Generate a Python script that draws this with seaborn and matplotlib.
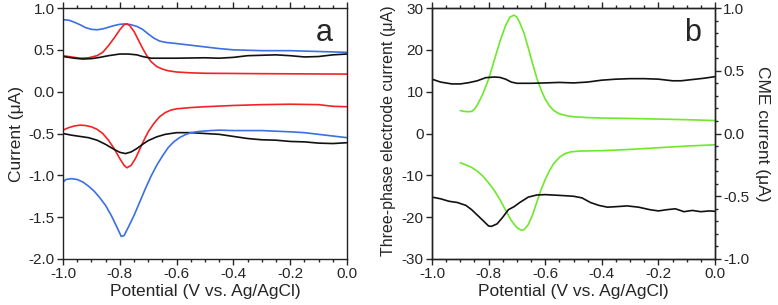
import numpy as np
import pandas as pd
import matplotlib
matplotlib.use("Agg")
import matplotlib.pyplot as plt
from matplotlib.ticker import MultipleLocator
import seaborn as sns

# ---------------- Panel a data (Current, uA) ----------------
a_blue_up_x = [-1.0, -0.98, -0.96, -0.94, -0.92, -0.90, -0.88, -0.86, -0.84, -0.82, -0.80, -0.78, -0.76, -0.74, -0.72, -0.70, -0.68, -0.66, -0.64, -0.60, -0.55, -0.50, -0.45, -0.40, -0.30, -0.20, -0.10, 0.0]
a_blue_up_y = [0.86, 0.855, 0.83, 0.80, 0.765, 0.745, 0.74, 0.75, 0.77, 0.79, 0.805, 0.81, 0.80, 0.78, 0.745, 0.69, 0.64, 0.605, 0.59, 0.575, 0.555, 0.535, 0.515, 0.50, 0.49, 0.49, 0.48, 0.47]

a_red_up_x = [-1.0, -0.97, -0.94, -0.91, -0.88, -0.86, -0.84, -0.82, -0.80, -0.785, -0.775, -0.765, -0.75, -0.735, -0.72, -0.705, -0.69, -0.67, -0.65, -0.63, -0.60, -0.55, -0.50, -0.30, 0.0]
a_red_up_y = [0.43, 0.415, 0.40, 0.405, 0.43, 0.47, 0.55, 0.64, 0.74, 0.80, 0.81, 0.79, 0.72, 0.62, 0.52, 0.43, 0.36, 0.30, 0.27, 0.25, 0.235, 0.225, 0.22, 0.215, 0.21]

a_blk_up_x = [-1.0, -0.96, -0.93, -0.90, -0.87, -0.84, -0.80, -0.77, -0.74, -0.72, -0.69, -0.60, -0.50, -0.45, -0.40, -0.35, -0.30, -0.25, -0.20, -0.15, -0.10, -0.05, 0.0]
a_blk_up_y = [0.42, 0.40, 0.39, 0.395, 0.41, 0.43, 0.45, 0.45, 0.44, 0.42, 0.40, 0.40, 0.405, 0.40, 0.41, 0.43, 0.435, 0.44, 0.43, 0.415, 0.42, 0.44, 0.45]

a_red_lo_x = [-1.0, -0.98, -0.96, -0.94, -0.92, -0.90, -0.88, -0.86, -0.84, -0.82, -0.80, -0.785, -0.775, -0.76, -0.745, -0.73, -0.715, -0.70, -0.68, -0.66, -0.64, -0.62, -0.60, -0.55, -0.50, -0.40, -0.30, -0.20, -0.10, -0.05, 0.0]
a_red_lo_y = [-0.46, -0.43, -0.41, -0.40, -0.405, -0.42, -0.45, -0.50, -0.58, -0.68, -0.80, -0.88, -0.91, -0.88, -0.80, -0.69, -0.58, -0.48, -0.38, -0.30, -0.25, -0.22, -0.205, -0.19, -0.18, -0.165, -0.155, -0.15, -0.155, -0.175, -0.18]

a_blk_lo_x = [-1.0, -0.97, -0.94, -0.91, -0.88, -0.85, -0.82, -0.80, -0.78, -0.76, -0.74, -0.72, -0.70, -0.67, -0.64, -0.60, -0.55, -0.50, -0.45, -0.40, -0.35, -0.30, -0.25, -0.20, -0.15, -0.10, -0.05, 0.0]
a_blk_lo_y = [-0.50, -0.52, -0.535, -0.55, -0.58, -0.63, -0.69, -0.725, -0.74, -0.72, -0.68, -0.63, -0.585, -0.54, -0.51, -0.49, -0.49, -0.50, -0.51, -0.535, -0.56, -0.575, -0.58, -0.595, -0.60, -0.615, -0.62, -0.61]

a_blue_lo_x = [-1.0, -0.99, -0.97, -0.95, -0.93, -0.91, -0.89, -0.87, -0.85, -0.83, -0.81, -0.795, -0.785, -0.77, -0.75, -0.73, -0.71, -0.69, -0.67, -0.65, -0.63, -0.61, -0.59, -0.57, -0.55, -0.52, -0.48, -0.45, -0.40, -0.30, -0.20, -0.15, -0.10, -0.05, 0.0]
a_blue_lo_y = [-1.08, -1.05, -1.04, -1.05, -1.08, -1.13, -1.19, -1.27, -1.36, -1.48, -1.62, -1.73, -1.72, -1.62, -1.48, -1.32, -1.16, -1.01, -0.88, -0.77, -0.67, -0.60, -0.55, -0.515, -0.49, -0.475, -0.465, -0.46, -0.465, -0.465, -0.48, -0.49, -0.51, -0.53, -0.55]

# ---------------- Panel b data ----------------
# three-phase electrode current (left axis, uA)
b_grn_up_x = [-0.90, -0.89, -0.87, -0.86, -0.85, -0.84, -0.82, -0.80, -0.78, -0.76, -0.74, -0.725, -0.71, -0.70, -0.69, -0.675, -0.66, -0.645, -0.63, -0.615, -0.60, -0.585, -0.57, -0.55, -0.52, -0.50, -0.45, -0.40, -0.30, -0.20, -0.10, 0.0]
b_grn_up_y = [5.5, 5.3, 5.2, 5.3, 5.8, 6.8, 9.5, 13.0, 17.5, 22.0, 25.8, 27.8, 28.3, 27.8, 26.5, 24.0, 20.5, 16.8, 13.3, 10.5, 8.2, 6.6, 5.5, 4.7, 4.2, 4.0, 3.8, 3.7, 3.6, 3.45, 3.3, 3.1]

b_grn_lo_x = [-0.90, -0.88, -0.86, -0.84, -0.82, -0.80, -0.78, -0.76, -0.74, -0.72, -0.70, -0.685, -0.675, -0.66, -0.645, -0.63, -0.615, -0.60, -0.585, -0.57, -0.55, -0.53, -0.51, -0.48, -0.40, -0.30, -0.20, -0.10, 0.0]
b_grn_lo_y = [-7.0, -7.5, -8.1, -9.0, -10.2, -11.8, -13.6, -15.8, -18.3, -20.8, -22.5, -23.1, -23.0, -21.8, -19.5, -16.5, -13.5, -11.0, -8.9, -7.2, -5.7, -4.8, -4.4, -4.2, -4.1, -3.8, -3.4, -3.0, -2.7]

# CME current (right axis, uA)
b_blk_up_x = [-1.0, -0.97, -0.93, -0.90, -0.87, -0.84, -0.81, -0.78, -0.76, -0.74, -0.72, -0.70, -0.65, -0.60, -0.55, -0.50, -0.45, -0.40, -0.35, -0.30, -0.25, -0.20, -0.15, -0.12, -0.08, -0.04, 0.0]
b_blk_up_y = [0.433, 0.41, 0.395, 0.395, 0.405, 0.42, 0.445, 0.45, 0.447, 0.433, 0.41, 0.40, 0.40, 0.403, 0.407, 0.403, 0.41, 0.425, 0.433, 0.437, 0.437, 0.433, 0.42, 0.42, 0.43, 0.44, 0.453]

b_blk_lo_x = [-1.0, -0.97, -0.94, -0.91, -0.88, -0.86, -0.84, -0.82, -0.80, -0.79, -0.77, -0.75, -0.73, -0.71, -0.69, -0.66, -0.63, -0.60, -0.55, -0.50, -0.47, -0.44, -0.41, -0.38, -0.35, -0.31, -0.27, -0.23, -0.20, -0.17, -0.14, -0.11, -0.08, -0.05, -0.02, 0.0]
b_blk_lo_y = [-0.507, -0.52, -0.54, -0.55, -0.573, -0.607, -0.65, -0.693, -0.737, -0.74, -0.72, -0.667, -0.607, -0.583, -0.55, -0.507, -0.49, -0.487, -0.493, -0.50, -0.513, -0.55, -0.573, -0.587, -0.583, -0.577, -0.587, -0.607, -0.617, -0.607, -0.60, -0.623, -0.613, -0.623, -0.617, -0.62]

x_ticks = [-1.0, -0.8, -0.6, -0.4, -0.2, 0.0]
a_yticks = [1.0, 0.5, 0.0, -0.5, -1.0, -1.5, -2.0]
b_yticks_left = [30, 20, 10, 0, -10, -20, -30]
b_yticks_right = [1.0, 0.5, 0.0, -0.5, -1.0]

BLUE = "#3b6fe3"
RED = "#f42323"
GREEN = "#6ee82a"
BLACK = "#111111"

sns.set_style("ticks")
plt.rcParams["font.family"] = ["Liberation Sans", "DejaVu Sans"]
plt.rcParams["axes.linewidth"] = 1.0
plt.rcParams["xtick.direction"] = "out"
plt.rcParams["ytick.direction"] = "out"

fig = plt.figure(figsize=(7.78, 3.05), dpi=100)
ax_a = fig.add_axes([63 / 778, 1 - 259 / 305, (347 - 63) / 778, (259 - 8) / 305])
ax_b = fig.add_axes([432 / 778, 1 - 259 / 305, (715 - 432) / 778, (259 - 8) / 305])
ax_b2 = ax_b.twinx()

def draw(ax, xs, ys, color):
    df = pd.DataFrame({"x": xs, "y": ys})
    sns.lineplot(data=df, x="x", y="y", ax=ax, color=color, lw=1.2, sort=False,
                 estimator=None)

draw(ax_a, a_blue_up_x, a_blue_up_y, BLUE)
draw(ax_a, a_red_up_x, a_red_up_y, RED)
draw(ax_a, a_blk_up_x, a_blk_up_y, BLACK)
draw(ax_a, a_red_lo_x, a_red_lo_y, RED)
draw(ax_a, a_blk_lo_x, a_blk_lo_y, BLACK)
draw(ax_a, a_blue_lo_x, a_blue_lo_y, BLUE)

draw(ax_b, b_grn_up_x, b_grn_up_y, GREEN)
draw(ax_b, b_grn_lo_x, b_grn_lo_y, GREEN)
draw(ax_b2, b_blk_up_x, b_blk_up_y, BLACK)
draw(ax_b2, b_blk_lo_x, b_blk_lo_y, BLACK)

TF = 11
LF = 12.5

for ax in (ax_a, ax_b):
    ax.set_xlim(-1.0, 0.0)
    ax.set_xticks(x_ticks)
    ax.set_xticklabels([f"{v:.1f}" for v in x_ticks])
    ax.xaxis.set_minor_locator(MultipleLocator(0.05))
    ax.tick_params(axis="x", which="both", top=True, bottom=True, labeltop=False)
    ax.tick_params(axis="x", which="major", length=4, width=1, labelsize=TF, pad=2)
    ax.tick_params(axis="x", which="minor", length=2.5, width=1)
    ax.tick_params(axis="y", which="major", length=4, width=1, labelsize=TF, pad=2)
    ax.set_xlabel("Potential (V vs. Ag/AgCl)", fontsize=LF, labelpad=2)
    for s in ax.spines.values():
        s.set_visible(True)
        s.set_color("#222222")

ax_a.set_ylim(-2.0, 1.0)
ax_a.set_yticks(a_yticks)
ax_a.set_yticklabels([f"{v:.1f}" for v in a_yticks])
ax_a.set_ylabel("Current (μA)", fontsize=LF, labelpad=3)
ax_a.text(0.95, 0.96, "a", transform=ax_a.transAxes, fontsize=22, ha="right", va="top")

ax_b.set_ylim(-30, 30)
ax_b.set_yticks(b_yticks_left)
ax_b.set_yticklabels([str(v) for v in b_yticks_left])
ax_b.set_ylabel("Three-phase electrode current (μA)", fontsize=11.5, labelpad=3)
ax_b.yaxis.set_label_coords(-0.128, 0.51)
ax_b.text(0.95, 0.96, "b", transform=ax_b.transAxes, fontsize=22, ha="right", va="top")

ax_b2.set_ylim(-1.0, 1.0)
ax_b2.set_yticks(b_yticks_right)
ax_b2.set_yticklabels([f"{v:.1f}" for v in b_yticks_right])
ax_b2.yaxis.set_minor_locator(MultipleLocator(0.1))
ax_b2.tick_params(axis="y", which="major", length=4, width=1, labelsize=TF, pad=2)
ax_b2.tick_params(axis="y", which="minor", length=2.5, width=1)
ax_b2.set_ylabel("CME current (μA)", fontsize=LF, rotation=270, labelpad=15)
ax_b2.set_xlim(-1.0, 0.0)
for s in ax_b2.spines.values():
    s.set_color("#222222")

fig.savefig("out.png", dpi=100)
